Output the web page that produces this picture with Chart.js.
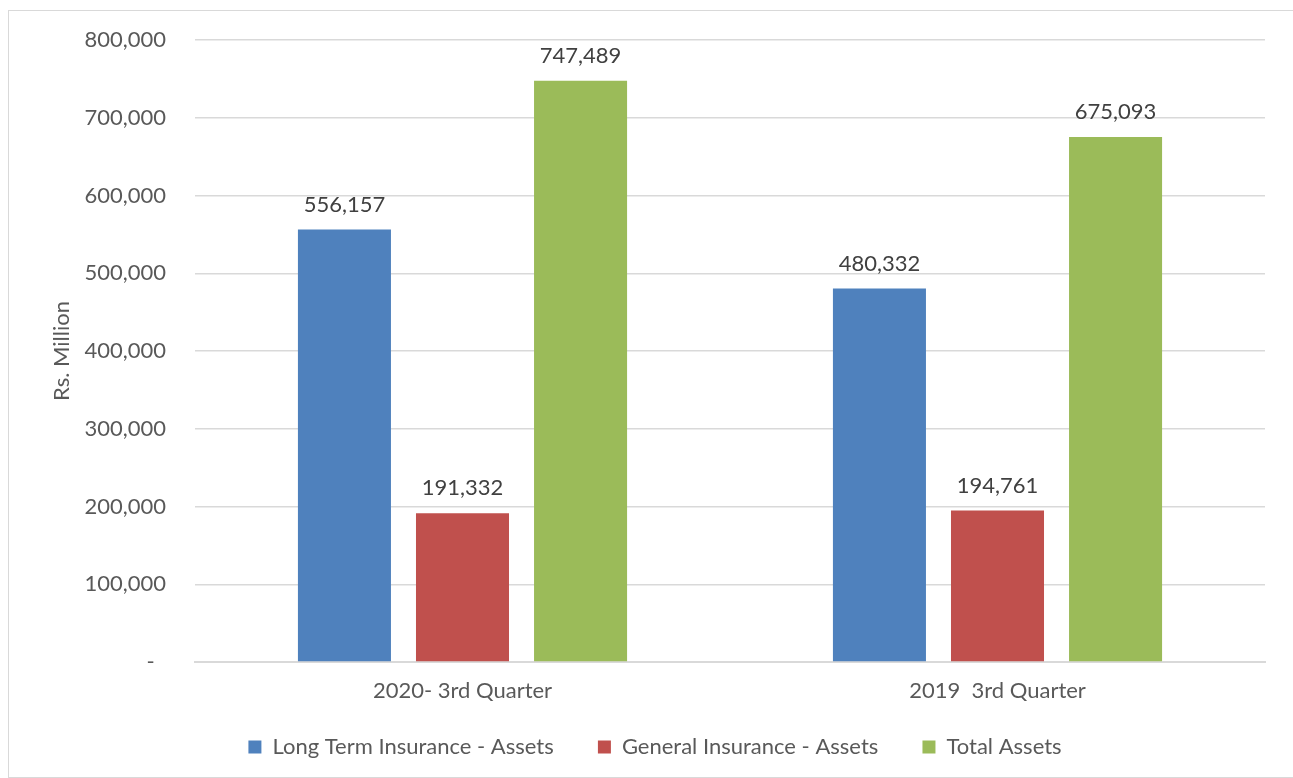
<!DOCTYPE html>
<html>
<head>
<meta charset="utf-8">
<script src="https://cdn.jsdelivr.net/npm/chart.js@4"></script>
<style>
  body { margin: 0; background: #fff; }
  #wrap {
    position: absolute; left: 8px; top: 10px;
    width: 1284px; height: 766px;
    border: 1px solid #d9d9d9;
  }
</style>
</head>
<body>
<div id="wrap"><canvas id="assetsChart" width="1284" height="766"></canvas></div>
<script>
const quarters = ['2020- 3rd Quarter', '2019  3rd Quarter'];
const longTermAssets = [556157, 480332];
const generalAssets = [191332, 194761];
const totalAssets = [747489, 675093];

const fontFamily = 'Lato, "Open Sans", sans-serif';

// writes the value above every bar
const barValues = {
    id: 'barValues',
    afterDatasetsDraw(chart) {
        const ctx = chart.ctx;
        ctx.save();
        ctx.font = '22px ' + fontFamily;
        ctx.fillStyle = '#404040';
        ctx.textAlign = 'center';
        ctx.textBaseline = 'middle';
        chart.data.datasets.forEach((ds, i) => {
            chart.getDatasetMeta(i).data.forEach((bar, j) => {
                ctx.fillText(ds.data[j].toLocaleString('en-US'), bar.x, bar.y - 25);
            });
        });
        ctx.restore();
    }
};

// centre the legend on the whole canvas, not just the padded layout area
const legendShift = {
    id: 'legendShift',
    afterLayout(chart) {
        chart.legend.left += 18;
        chart.legend.right += 18;
    }
};

const ctx = document.getElementById('assetsChart').getContext('2d');
new Chart(ctx, {
    type: 'bar',
    data: {
        labels: quarters,
        datasets: [
            { label: 'Long Term Insurance - Assets', data: longTermAssets, backgroundColor: '#4f81bd' },
            { label: 'General Insurance - Assets', data: generalAssets, backgroundColor: '#c0504d' },
            { label: 'Total Assets', data: totalAssets, backgroundColor: '#9bbb59' }
        ]
    },
    options: {
        responsive: false,
        animation: false,
        datasets: { bar: { categoryPercentage: 0.662, barPercentage: 0.788 } },
        layout: { padding: { top: 29, right: 28, left: 0, bottom: 9 } },
        plugins: {
            tooltip: { enabled: false },
            legend: {
                position: 'bottom',
                labels: {
                    font: { family: fontFamily, size: 22 },
                    color: '#595959',
                    boxWidth: 13,
                    boxHeight: 13,
                    padding: 16,
                    useBorderRadius: false,
                    // pad the first two entries so the items sit further apart
                    generateLabels(chart) {
                        const items = Chart.defaults.plugins.legend.labels.generateLabels(chart);
                        items.forEach((item, i) => {
                            if (i < items.length - 1) item.text += '     ';
                        });
                        return items;
                    }
                }
            }
        },
        scales: {
            x: {
                grid: { display: false, drawTicks: false },
                border: { display: true, color: '#d9d9d9', width: 2 },
                ticks: { font: { family: fontFamily, size: 22 }, color: '#595959', padding: 16 },
                afterFit(scale) { scale.height = 58; }
            },
            y: {
                min: 0,
                max: 800000,
                grid: { color: '#d9d9d9', lineWidth: 1.5, drawTicks: false },
                border: { display: false },
                ticks: {
                    stepSize: 100000,
                    font: { family: fontFamily, size: 22 },
                    color: '#595959',
                    padding: 29,
                    callback: v => v === 0 ? '-  ' : v.toLocaleString('en-US')
                },
                title: {
                    display: true,
                    text: 'Rs. Million',
                    font: { family: fontFamily, size: 22 },
                    color: '#595959',
                    padding: { top: 40, bottom: 0 }
                },
                afterFit(scale) {
                    scale.width = 186;
                    scale.paddingTop = 0;
                    scale.paddingBottom = 0;
                }
            }
        }
    },
    plugins: [barValues, legendShift]
});
</script>
</body>
</html>
